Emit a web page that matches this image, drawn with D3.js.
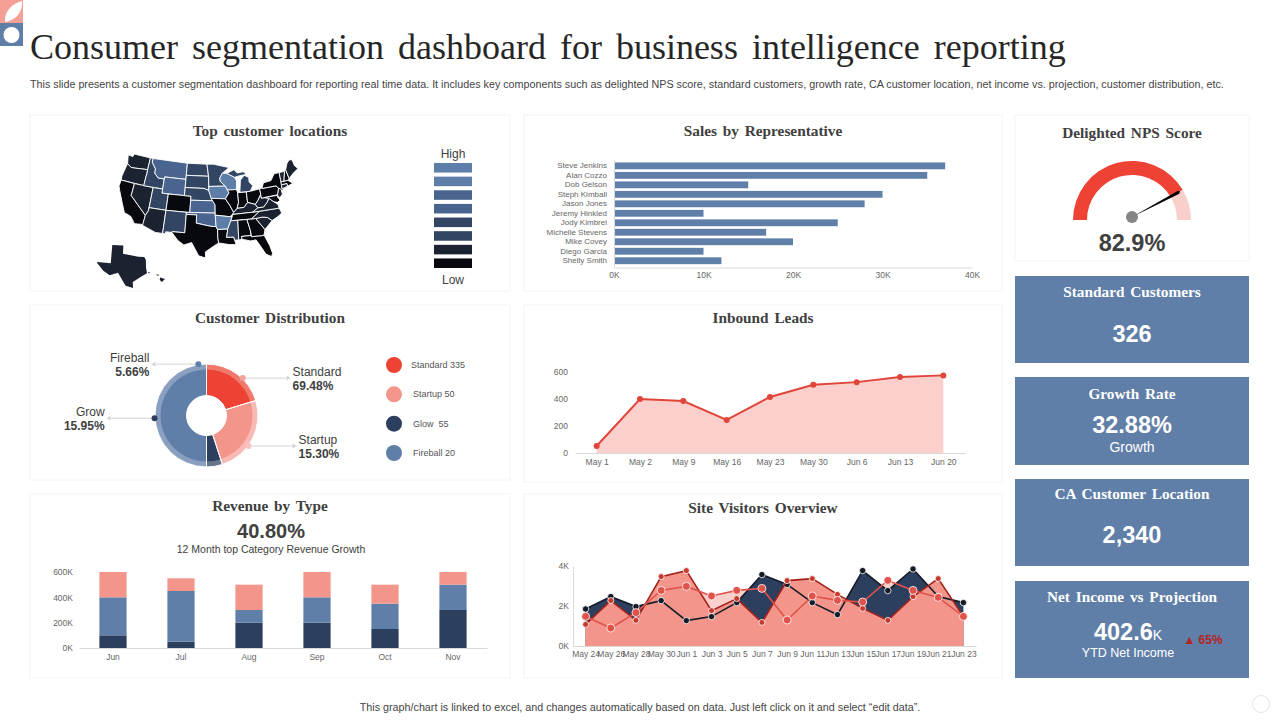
<!DOCTYPE html>
<html>
<head>
<meta charset="utf-8">
<script src="https://cdn.jsdelivr.net/npm/d3@7"></script>
<style>
  html, body { margin: 0; padding: 0; background: #fff; }
  svg { display: block; font-family: "Liberation Sans", Arial, sans-serif; opacity: 0.999; }
  .serif { font-family: "Liberation Serif", serif; font-weight: bold; }
</style>
</head>
<body>
<svg id="chart" width="1280" height="720"></svg>
<script>
// sales by representative
const repNames = ["Steve Jenkins", "Alan Cozzo", "Dob Gelson", "Steph Kimball", "Jason Jones", "Jeremy Hinkled", "Jody Kimbrel", "Michelle Stevens", "Mike Covey", "Diego Garcia", "Shelly Smith"];
const repSales = [37, 35, 15, 30, 28, 10, 25, 17, 20, 10, 12];
const repTicks = [0, 10, 20, 30, 40];

// customer distribution
const sliceNames = ["Standard", "Startup", "Glow", "Fireball"];
const sliceShares = [20.3, 24.7, 5, 50];
const legendLabels = ["Standard 335", "Startup 50", "Glow  55", "Fireball 20"];

// inbound leads
const leadDates = ["May 1", "May 2", "May 9", "May 16", "May 23", "May 30", "Jun 6", "Jun 13", "Jun 20"];
const leadValues = [52, 400, 385, 245, 415, 505, 525, 563, 575];
const leadTicks = [0, 200, 400, 600];

// revenue by type
const revenueMonths = ["Jun", "Jul", "Aug", "Sep", "Oct", "Nov"];
const revenueNavy = [100, 50, 200, 200, 150, 300];
const revenueBlue = [300, 400, 100, 200, 200, 200];
const revenueSalmon = [200, 100, 200, 200, 150, 100];
const revenueTicks = [0, 200, 400, 600];

// site visitors
const visitDates = ["May 24", "May 26", "May 28", "May 30", "Jun 1", "Jun 3", "Jun 5", "Jun 7", "Jun 9", "Jun 11", "Jun 13", "Jun 15", "Jun 17", "Jun 19", "Jun 21", "Jun 23"];
const visitsNavy = [1.85, 2.47, 1.97, 2.27, 1.27, 1.47, 2.17, 3.57, 3.08, 2.17, 1.57, 3.77, 2.77, 3.85, 2.47, 2.17];
const visitsDarkRed = [1.08, 2.27, 1.28, 3.47, 3.77, 1.77, 2.37, 1.18, 3.27, 3.37, 2.58, 1.88, 1.28, 2.47, 3.37, 1.47];
const visitsLightRed = [1.48, 0.9, 1.67, 2.78, 2.98, 2.5, 2.78, 2.88, 1.3, 2.5, 2.28, 2.2, 3.28, 2.78, 2.43, 1.48];
const visitTicks = [0, 2, 4];

// gauge
const npsScore = 82.9;

// map: rough state outlines as lon/lat rings, with a shade level 1 (low) to 8 (high)
const stateLevels = { WA: 2, OR: 2, CA: 1, NV: 2, ID: 4, MT: 6, WY: 6, UT: 4, CO: 1, AZ: 2, NM: 4, ND: 4, SD: 4, NE: 4, KS: 6, OK: 6, TX: 1, MN: 4, IA: 8, MO: 1, AR: 8, LA: 1, WI: 8, IL: 1, IN: 1, MI: 4, OH: 1, KY: 2, TN: 1, MS: 4, AL: 1, GA: 1, FL: 1, SC: 2, NC: 2, VA: 2, WV: 2, PA: 1, NY: 1, MD: 1, DE: 2, NJ: 2, CT: 2, MA: 1, VT: 2, NH: 1, ME: 2 };
const stateRings = {
  WA: [[[-124.7,48.4],[-123,48.3],[-122.8,49],[-117,49],[-117,46],[-119,45.9],[-121,45.7],[-122.5,45.6],[-124,46.3]]],
  OR: [[[-124,46.3],[-122.5,45.6],[-121,45.7],[-119,45.9],[-117,46],[-116.9,45],[-117,44.2],[-117,42],[-124.3,42],[-124.5,43]]],
  CA: [[[-124.3,42],[-120,42],[-120,39],[-114.6,35],[-114.7,32.7],[-117.1,32.5],[-118.5,34],[-120.6,34.6],[-122,36.8],[-123.8,39.5],[-124.4,40.5]]],
  NV: [[[-120,42],[-114,42],[-114,36.2],[-114.6,35],[-120,39]]],
  ID: [[[-117,49],[-116,49],[-116,48],[-114.5,46.6],[-114.4,45.5],[-113,44.5],[-111,44.5],[-111,42],[-117,42],[-117,44.2],[-116.9,45],[-117,46]]],
  MT: [[[-116,49],[-104,49],[-104,45],[-111,45],[-111,44.5],[-113,44.5],[-114.4,45.5],[-114.5,46.6],[-116,48]]],
  WY: [[[-111,45],[-104,45],[-104,41],[-111,41]]],
  UT: [[[-114,42],[-111,42],[-111,41],[-109,41],[-109,37],[-114,37]]],
  CO: [[[-109,41],[-102,41],[-102,37],[-109,37]]],
  AZ: [[[-114,37],[-109,37],[-109,31.3],[-111,31.3],[-114.8,32.5],[-114.6,35],[-114,36.2]]],
  NM: [[[-109,37],[-103,37],[-103,32],[-106.5,32],[-106.5,31.8],[-108.2,31.8],[-108.2,31.3],[-109,31.3]]],
  ND: [[[-104,49],[-97.2,49],[-96.6,46],[-104,46]]],
  SD: [[[-104,46],[-96.6,46],[-96.5,42.5],[-98,43],[-104,43]]],
  NE: [[[-104,43],[-98,43],[-96.5,42.5],[-95.3,40],[-102,40],[-102,41],[-104,41]]],
  KS: [[[-102,40],[-95.3,40],[-94.6,39],[-94.6,37],[-102,37]]],
  OK: [[[-103,37],[-94.6,37],[-94.4,33.7],[-96,33.8],[-100,34.5],[-100,36.5],[-103,36.5]]],
  TX: [[[-106.5,32],[-103,32],[-103,36.5],[-100,36.5],[-100,34.5],[-96,33.8],[-94.4,33.7],[-94,33],[-94,31],[-93.8,29.7],[-95,29],[-97.3,27.5],[-97.2,26],[-99,26.5],[-101,29.7],[-103,29],[-104.7,30],[-106.5,31.8]]],
  MN: [[[-97.2,49],[-95,49],[-89.6,48],[-92,46.7],[-92.9,45.5],[-92.8,44.7],[-91.2,43.5],[-96.5,43.5],[-96.6,46]]],
  IA: [[[-96.5,43.5],[-91.2,43.5],[-90.2,41.8],[-91.4,40.4],[-95.8,40.6],[-96.5,42.5]]],
  MO: [[[-95.8,40.6],[-91.4,40.4],[-90.2,38.8],[-89.2,37],[-89.6,36.5],[-90.4,36],[-94.6,36.5],[-94.6,39]]],
  AR: [[[-94.6,36.5],[-90.4,36],[-89.7,36],[-91.2,33],[-94,33],[-94.4,33.7]]],
  LA: [[[-94,33],[-91.2,33],[-91.6,31],[-89.7,31],[-89.5,30.2],[-89.2,29.1],[-91,29.2],[-93.8,29.7],[-94,31]]],
  WI: [[[-92,46.7],[-90.5,46.6],[-88,45.5],[-87.5,44.5],[-87.8,42.5],[-90.6,42.5],[-91.2,43.5],[-92.8,44.7],[-92.9,45.5]]],
  IL: [[[-90.6,42.5],[-87.8,42.5],[-87.5,41.7],[-87.5,39.3],[-88.1,37.9],[-89.2,37],[-90.2,38.8],[-91.4,40.4],[-90.2,41.8]]],
  IN: [[[-87.5,41.7],[-84.8,41.7],[-84.8,39.1],[-86,38],[-88.1,37.9],[-87.5,39.3]]],
  MI: [[[-86.8,41.76],[-83.5,41.73],[-82.5,43],[-83.5,44],[-83.4,45.1],[-84.8,45.8],[-86.2,44.7]],
       [[-90.5,46.6],[-88,47.4],[-87,46.5],[-85,46.7],[-84,46],[-85,45.9],[-87,45.7],[-88,45.5]]],
  OH: [[[-84.8,41.7],[-83.5,41.73],[-80.5,42],[-80.5,40.6],[-81.7,39.2],[-82.6,38.4],[-84.8,39.1]]],
  KY: [[[-88.1,37.9],[-86,38],[-84.8,39.1],[-82.6,38.4],[-82,37.5],[-83.7,36.6],[-89.5,36.5],[-89.2,37]]],
  TN: [[[-89.6,36.5],[-83.7,36.6],[-81.7,36.6],[-84.3,35],[-90.2,35],[-89.7,36]]],
  MS: [[[-90.2,35],[-88.2,35],[-88.4,30.2],[-89.5,30.2],[-89.7,31],[-91.6,31],[-91.2,33]]],
  AL: [[[-88.2,35],[-85.6,35],[-85,32.3],[-85,31],[-87.6,31],[-87.5,30.3],[-88.4,30.2]]],
  GA: [[[-85.6,35],[-83.1,35],[-81,32],[-81.5,30.7],[-82.2,30.6],[-84.9,30.7],[-85,32.3]]],
  FL: [[[-87.6,31],[-85,31],[-84.9,30.7],[-82.2,30.6],[-81.5,30.7],[-80.5,28],[-80.1,26],[-80.5,25.2],[-81.8,26],[-82.8,28],[-83.8,29.8],[-85.3,29.7],[-87.5,30.3]]],
  SC: [[[-83.1,35],[-81,35.1],[-79.7,34.8],[-78.6,33.9],[-81,32]]],
  NC: [[[-84.3,35],[-83.1,35],[-81,35.1],[-79.7,34.8],[-78.6,33.9],[-76.5,34.7],[-75.5,35.3],[-75.9,36.55],[-81.7,36.6]]],
  VA: [[[-83.7,36.6],[-75.9,36.55],[-76,37.5],[-77,38.3],[-78.3,39.4],[-79,38.5],[-80.3,37.5],[-82,37.5]]],
  WV: [[[-82.6,38.4],[-81.7,39.2],[-80.5,40.6],[-80.5,39.7],[-79.5,39.7],[-78.3,39.4],[-79,38.5],[-80.3,37.5],[-82,37.5]]],
  PA: [[[-80.5,42],[-79.8,42.2],[-79.8,42],[-75.3,42],[-74.7,41.3],[-75.4,39.8],[-80.5,39.7]]],
  NY: [[[-79.8,42],[-79,43.3],[-76.5,43.5],[-75,45],[-73.3,45],[-73.5,42],[-73.7,41],[-72,41],[-74,40.6],[-74.7,41.3],[-75.3,42]]],
  MD: [[[-79.5,39.7],[-75.8,39.7],[-75.1,38.4],[-76,38],[-77,38.3],[-78.3,39.4]]],
  DE: [[[-75.8,39.7],[-75.4,39.8],[-75.1,38.4]]],
  NJ: [[[-74.7,41.3],[-74,40.9],[-74,39.7],[-75,39],[-75.5,39.7]]],
  CT: [[[-73.6,42],[-71.8,42],[-71.8,41.3],[-73.7,41]]],
  MA: [[[-73.5,42.7],[-71.3,42.7],[-70,41.7],[-71.8,41.3],[-71.8,42],[-73.6,42]]],
  VT: [[[-73.3,45],[-71.5,45],[-72.5,42.7],[-73.5,42.7]]],
  NH: [[[-71.5,45],[-71,45.3],[-70.7,43],[-71.3,42.7],[-72.5,42.7]]],
  ME: [[[-71,45.3],[-70,46.7],[-69,47.4],[-68,47.3],[-67.8,45.7],[-67,44.8],[-69,44],[-70.7,43]]]
};
const hawaiiRings = [[[-155.9,20.2],[-155,19.8],[-155.6,19],[-156,19.6]], [[-156.7,21],[-156,20.8],[-156.4,20.6]], [[-158.2,21.6],[-157.7,21.4],[-158.1,21.3]]];
const shadeColors = ["#07090e", "#1b2330", "#1b2330", "#324663", "#324663", "#49658f", "#49658f", "#5d7ea8"];
const legendShades = ["#5d7ea8", "#5d7ea8", "#49658f", "#49658f", "#324663", "#324663", "#1b2330", "#07090e"];

const NAVY = "#2d3f5e", BLUE = "#5f7ea8", SALMON = "#f4958b", RED = "#ee4334", TEXT = "#404040", TICK = "#666", RULE = "#d9d9d9";

const svg = d3.select("#chart");

function label(g, x, y, str, size, opts = {}) {
  return g.append("text")
    .attr("x", x).attr("y", y)
    .attr("text-anchor", opts.anchor || "middle")
    .attr("font-size", size)
    .attr("font-weight", opts.weight || "normal")
    .attr("fill", opts.fill || TEXT)
    .attr("class", opts.serif ? "serif" : null)
    .style("word-spacing", opts.words || null)
    .text(str);
}

function panel(x0, y0, x1, y1, title, titleY) {
  svg.append("rect")
    .attr("x", x0).attr("y", y0).attr("width", x1 - x0).attr("height", y1 - y0)
    .attr("fill", "#fff").attr("stroke", "#f4f4f4").attr("stroke-width", 1);
  if (title) label(svg, (x0 + x1) / 2, titleY, title, 15.3, { serif: true, words: "2px" });
}

function styleAxis(g, size) {
  g.selectAll("text").attr("font-size", size).attr("fill", TICK).style("font-family", "Liberation Sans");
  g.selectAll(".domain").attr("stroke", RULE);
}

// header
svg.append("rect").attr("width", 23).attr("height", 23).attr("fill", "#f4a097");
svg.append("path").attr("d", "M5 22C4 12 11 4 22 1C23 12 16 20 5 22Z").attr("fill", "#fff");
svg.append("rect").attr("y", 23).attr("width", 23).attr("height", 23).attr("fill", BLUE);
svg.append("circle").attr("cx", 11.5).attr("cy", 35).attr("r", 8).attr("fill", "#fff");

label(svg, 30, 59, "Consumer segmentation dashboard for business intelligence reporting", 36, { anchor: "start", fill: "#262626", words: "5px" }).style("font-family", "Liberation Serif");
label(svg, 30, 88, "This slide presents a customer segmentation dashboard for reporting real time data. It includes key components such as delighted NPS  score, standard customers, growth rate, CA customer location, net income vs. projection, customer distribution, etc.", 10.75, { anchor: "start", fill: "#444" });
label(svg, 640, 711, "This graph/chart is linked to excel, and changes automatically based on data. Just left click on it and select \u201cedit data\u201d.", 10.75, { fill: "#444" });
svg.append("circle").attr("cx", 1261).attr("cy", 704).attr("r", 8.5).attr("fill", "#fff").attr("stroke", "#e4e4e4");

// panels
panel(30, 115, 510, 291, "Top customer locations", 136);
panel(524, 115, 1002, 291, "Sales by Representative", 136);
panel(1015, 115, 1249, 261, "Delighted NPS Score", 138);
panel(30, 305, 510, 480, "Customer Distribution", 323);
panel(524, 305, 1002, 482, "Inbound Leads", 323);
panel(30, 494, 510, 678, "Revenue by Type", 511);
panel(524, 494, 1002, 678, "Site Visitors Overview", 513);

// map
// geoPath drops the last point of each ring, so the rings have to be closed first
const closeRing = r => [...r, r[0]];
const stateFeatures = Object.keys(stateRings).map(code => ({
  type: "Feature",
  properties: { code: code },
  geometry: { type: "MultiPolygon", coordinates: stateRings[code].map(r => [closeRing(r)]) }
}));

// rings are planar sketches, so skip spherical winding and clipping; stretch to the box
function stretchedPath(projection, points, box) {
  const xy = points.map(projection);
  const sx = d3.scaleLinear().domain(d3.extent(xy, p => p[0])).range([box[0][0], box[1][0]]);
  const sy = d3.scaleLinear().domain(d3.extent(xy, p => p[1])).range([box[0][1], box[1][1]]);
  return d3.geoPath(d3.geoTransform({
    point(lon, lat) {
      const p = projection([lon, lat]);
      this.stream.point(sx(p[0]), sy(p[1]));
    }
  }));
}

const conic = d3.geoConicEqualArea().parallels([29.5, 45.5]).rotate([96, 0]).center([0, 37.5]);
const usPath = stretchedPath(conic, Object.values(stateRings).flat(2), [[119, 154], [298, 258]]);
svg.append("g").selectAll("path").data(stateFeatures).join("path")
  .attr("d", usPath)
  .attr("fill", d => shadeColors[stateLevels[d.properties.code] - 1])
  .attr("stroke", "#fff").attr("stroke-width", 0.9).attr("stroke-linejoin", "round");

svg.append("path")
  .datum(stateFeatures.find(d => d.properties.code === "TX"))
  .attr("d", stretchedPath(conic, stateRings.TX.flat(1), [[97, 245], [147, 288]]))
  .attr("fill", "#1b2330");

svg.append("path")
  .datum({ type: "MultiPolygon", coordinates: hawaiiRings.map(r => [closeRing(r)]) })
  .attr("d", stretchedPath(d3.geoMercator(), hawaiiRings.flat(1), [[148, 272], [165, 282]]))
  .attr("fill", "#1b2330");

const swatchY = d3.scaleBand().domain(d3.range(legendShades.length)).range([163, 268]).paddingInner(0.3);
svg.append("g").selectAll("rect").data(legendShades).join("rect")
  .attr("x", 434).attr("width", 38)
  .attr("y", (d, i) => swatchY(i)).attr("height", swatchY.bandwidth())
  .attr("fill", d => d);
label(svg, 453, 158, "High", 12);
label(svg, 453, 284, "Low", 12);

// sales by representative
const repX = d3.scaleLinear().domain([0, 40]).range([614, 972]);
const repY = d3.scaleBand().domain(repNames).range([159.8, 266.8]).padding(0.28);
svg.append("g").selectAll("rect").data(repSales).join("rect")
  .attr("x", repX(0))
  .attr("y", (d, i) => repY(repNames[i]))
  .attr("width", d => repX(d) - repX(0))
  .attr("height", repY.bandwidth())
  .attr("fill", BLUE);
svg.append("g").attr("transform", "translate(0,267.5)")
  .call(d3.axisBottom(repX).tickValues(repTicks).tickSize(0).tickPadding(4).tickFormat(d => d + "K"))
  .call(styleAxis, 8.5);
svg.append("g").attr("transform", "translate(614,0)")
  .call(d3.axisLeft(repY).tickSize(0).tickPadding(7))
  .call(styleAxis, 8);

// gauge
const gaugeArc = d3.arc().innerRadius(45).outerRadius(59);
const gaugeAngle = d3.scaleLinear().domain([0, 100]).range([-Math.PI / 2, Math.PI / 2]);
const gauge = svg.append("g").attr("transform", "translate(1132,220)");
gauge.append("path").attr("d", gaugeArc({ startAngle: gaugeAngle(npsScore), endAngle: gaugeAngle(100) })).attr("fill", "#f9cfcb");
gauge.append("path").attr("d", gaugeArc({ startAngle: gaugeAngle(0), endAngle: gaugeAngle(npsScore) })).attr("fill", RED);
const needleA = gaugeAngle(npsScore);
const tip = d3.pointRadial(needleA, 56);
const tipL = d3.pointRadial(needleA - 0.03, 54);
const tipR = d3.pointRadial(needleA + 0.03, 54);
gauge.append("path").attr("d", d3.line()([[0, -3], tipL, tip, tipR])).attr("fill", "#000");
gauge.append("circle").attr("cy", -3).attr("r", 6).attr("fill", "#858585");
label(svg, 1132, 251, npsScore + "%", 23.5, { weight: "bold" });

// customer distribution
const pieColors = [RED, SALMON, NAVY, BLUE];
const ringColors = ["#ef7a6c", "#f8bab4", "#66758a", "#8ba0c0"];
const slices = d3.pie().sort(null)(sliceShares);
const pieG = svg.append("g").attr("transform", "translate(206.5,415.5)");
const outerArc = d3.arc().innerRadius(45).outerRadius(51.5);
const innerArc = d3.arc().innerRadius(20).outerRadius(46);
pieG.selectAll(".ring").data(slices).join("path").attr("class", "ring")
  .attr("d", outerArc).attr("fill", (d, i) => ringColors[i]);
pieG.selectAll(".core").data(slices).join("path").attr("class", "core")
  .attr("d", innerArc).attr("fill", (d, i) => pieColors[i]);
pieG.selectAll(".gap").data(slices).join("path").attr("class", "gap")
  .attr("d", d3.arc().innerRadius(20).outerRadius(51.5))
  .attr("fill", "none").attr("stroke", "#fff").attr("stroke-width", 1);

const callouts = [
  { name: "Fireball", pct: "5.66%", deg: -9, dir: -1, len: 43, anchor: "end", color: "#5f7ea8", dy: 0 },
  { name: "Standard", pct: "69.48%", deg: 44, dir: 1, len: 44, anchor: "start", color: "#f0a49c", dy: 0 },
  { name: "Grow", pct: "15.95%", deg: -93, dir: -1, len: 44, anchor: "end", color: NAVY, dy: 0 },
  { name: "Startup", pct: "15.30%", deg: 126, dir: 1, len: 44, anchor: "start", color: "#f8c4bf", dy: 0 }
];
callouts.forEach(c => {
  const p = d3.pointRadial(c.deg * Math.PI / 180, 52);
  const endX = p[0] + c.dir * c.len;
  pieG.append("line").attr("x1", p[0]).attr("y1", p[1]).attr("x2", endX).attr("y2", p[1])
    .attr("stroke", "#d4d4d4").attr("stroke-width", 1);
  pieG.append("path")
    .attr("d", d3.line()([[endX, p[1] - 2.5], [endX + c.dir * 4, p[1]], [endX, p[1] + 2.5]]))
    .attr("fill", "#d4d4d4");
  pieG.append("circle").attr("cx", p[0]).attr("cy", p[1]).attr("r", 3).attr("fill", c.color);
  const textX = endX + c.dir * 6;
  label(pieG, textX, p[1] - 2, c.name, 12, { anchor: c.anchor });
  label(pieG, textX, p[1] + 12, c.pct, 12, { anchor: c.anchor, weight: "bold" });
});

const legendY = d3.scalePoint().domain(sliceNames).range([365, 453]);
sliceNames.forEach((name, i) => {
  svg.append("circle").attr("cx", 394).attr("cy", legendY(name)).attr("r", 8).attr("fill", pieColors[i]);
  label(svg, i === 0 ? 411 : 413, legendY(name) + 3, legendLabels[i], 9, { anchor: "start", fill: "#555" }).style("white-space", "pre");
});

// inbound leads
const leadX = d3.scalePoint().domain(leadDates).range([575, 965]).padding(0.5);
const leadY = d3.scaleLinear().domain([0, 600]).range([453, 372]);
svg.append("path").datum(leadValues)
  .attr("d", d3.area().x((d, i) => leadX(leadDates[i])).y0(leadY(0)).y1(d => leadY(d)))
  .attr("fill", "#fbd0cc");
svg.append("path").datum(leadValues)
  .attr("d", d3.line().x((d, i) => leadX(leadDates[i])).y(d => leadY(d)))
  .attr("fill", "none").attr("stroke", "#e0453a").attr("stroke-width", 2);
svg.append("g").selectAll("circle").data(leadValues).join("circle")
  .attr("cx", (d, i) => leadX(leadDates[i])).attr("cy", d => leadY(d)).attr("r", 3)
  .attr("fill", "#e0453a");
svg.append("g").attr("transform", "translate(0,453)")
  .call(d3.axisBottom(leadX).tickSize(0).tickPadding(6))
  .call(styleAxis, 8.5);
svg.append("g").attr("transform", "translate(572,0)")
  .call(d3.axisLeft(leadY).tickValues(leadTicks).tickSize(0).tickPadding(4))
  .call(styleAxis, 8.5)
  .call(g => g.select(".domain").remove());

// revenue by type
label(svg, 271, 538, "40.80%", 20, { weight: "bold" });
label(svg, 271, 553, "12 Month top Category Revenue Growth", 10.5);
const revX = d3.scaleBand().domain(revenueMonths).range([79, 487]).paddingInner(0.6).paddingOuter(0.3);
const revY = d3.scaleLinear().domain([0, 600]).range([648, 572]);
const revKeys = ["navy", "blue", "salmon"];
const revRows = revenueMonths.map((m, i) => ({ month: m, navy: revenueNavy[i], blue: revenueBlue[i], salmon: revenueSalmon[i] }));
const revColors = { navy: NAVY, blue: BLUE, salmon: SALMON };
svg.append("g").selectAll("g").data(d3.stack().keys(revKeys)(revRows)).join("g")
  .attr("fill", d => revColors[d.key])
  .selectAll("rect").data(d => d).join("rect")
  .attr("x", d => revX(d.data.month)).attr("width", revX.bandwidth())
  .attr("y", d => revY(d[1])).attr("height", d => revY(d[0]) - revY(d[1]));
svg.append("g").attr("transform", "translate(0,648)")
  .call(d3.axisBottom(revX).tickSize(0).tickPadding(6))
  .call(styleAxis, 8.5);
svg.append("g").attr("transform", "translate(77,0)")
  .call(d3.axisLeft(revY).tickValues(revenueTicks).tickSize(0).tickPadding(4).tickFormat(d => d + "K"))
  .call(styleAxis, 8.5)
  .call(g => g.select(".domain").remove());

// site visitors
const visitX = d3.scalePoint().domain(visitDates).range([573, 976]).padding(0.5);
const visitY = d3.scaleLinear().domain([0, 4]).range([646, 566]);
const visitArea = d3.area().x((d, i) => visitX(visitDates[i])).y0(visitY(0)).y1(d => visitY(d));
const visitLine = d3.line().x((d, i) => visitX(visitDates[i])).y(d => visitY(d));
[[visitsLightRed, "#fbd0cc"], [visitsNavy, NAVY], [visitsDarkRed, SALMON]].forEach(([vals, fill]) => {
  svg.append("path").datum(vals).attr("d", visitArea).attr("fill", fill);
});
svg.append("g").attr("transform", "translate(0,646)")
  .call(d3.axisBottom(visitX).tickSize(0).tickPadding(5))
  .call(styleAxis, 8.5);
svg.append("g").attr("transform", "translate(573,0)")
  .call(d3.axisLeft(visitY).tickValues(visitTicks).tickSize(0).tickPadding(4).tickFormat(d => d + "K"))
  .call(styleAxis, 8.5);
[[visitsNavy, "#141a26", "#141a26", 3.2], [visitsDarkRed, "#a3221b", "#c8392e", 3], [visitsLightRed, "#e0524a", "#e0524a", 4]].forEach(([vals, color, dot, r]) => {
  svg.append("path").datum(vals).attr("d", visitLine)
    .attr("fill", "none").attr("stroke", color).attr("stroke-width", 1.6);
  svg.append("g").selectAll("circle").data(vals).join("circle")
    .attr("cx", (d, i) => visitX(visitDates[i])).attr("cy", d => visitY(d)).attr("r", r)
    .attr("fill", dot)
    .attr("stroke", "#fff").attr("stroke-width", 0.8);
});

// kpi cards
function card(y0, y1, title, titleY, value, valueY) {
  svg.append("rect").attr("x", 1015).attr("y", y0).attr("width", 234).attr("height", y1 - y0).attr("fill", BLUE);
  label(svg, 1132, titleY, title, 15.3, { serif: true, fill: "#fff", words: "2px" });
  if (value) label(svg, 1132, valueY, value, 23.5, { weight: "bold", fill: "#fff" });
}
card(276, 363, "Standard Customers", 297, "326", 342);
card(377, 465, "Growth Rate", 399, "32.88%", 433);
label(svg, 1132, 452, "Growth", 14, { fill: "#fff" });
card(479, 566, "CA Customer Location", 499, "2,340", 543);
card(581, 678, "Net Income vs Projection", 602);
const netText = label(svg, 1128, 640, "402.6", 23.5, { weight: "bold", fill: "#fff" });
netText.append("tspan").attr("font-size", 14).attr("font-weight", "normal").text("K");
label(svg, 1128, 657, "YTD Net Income", 12.5, { fill: "#fff" });
label(svg, 1203, 644, "\u25B2 65%", 12, { weight: "bold", fill: "#b3261e" });
</script>
</body>
</html>
